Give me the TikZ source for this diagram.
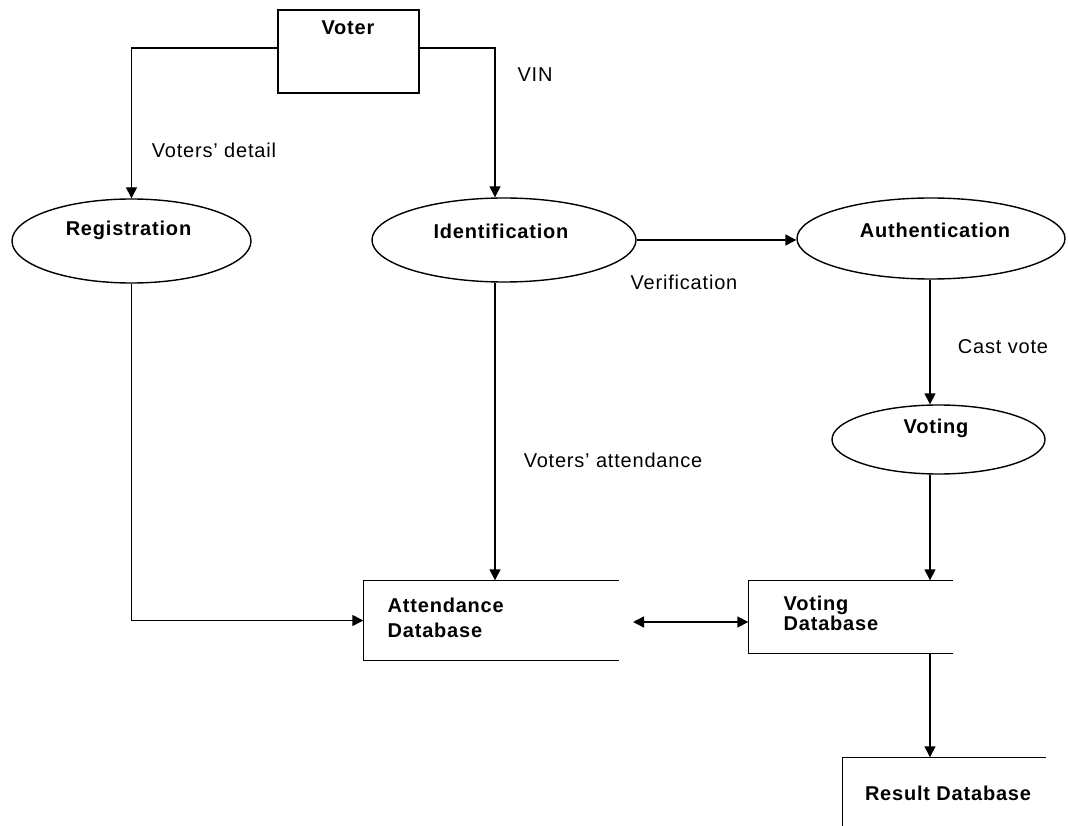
\documentclass[tikz,border=0pt]{standalone}
\usepackage{fontspec}
\setmainfont{Liberation Sans}[LetterSpace=4]
\usetikzlibrary{shapes.geometric,arrows.meta}
\begin{document}
\begin{tikzpicture}[x=1pt,y=-1pt,line width=1.4pt,
  ell/.style={draw,ellipse,inner sep=0pt},
  boxs/.style={draw,rectangle,inner sep=0pt},
  db/.style={rectangle,inner sep=0pt},
  lbl/.style={inner sep=0pt,font=\fontsize{20}{24}\selectfont},
  ttl/.style={inner sep=0pt,font=\bfseries\fontsize{20}{24}\selectfont},
  arr/.style={-{Triangle[length=11pt,width=11pt]}},
  darr/.style={{Triangle[length=11pt,width=11pt]}-{Triangle[length=11pt,width=11pt]}}]
\useasboundingbox (0,0) rectangle (1068,826);
% shapes
\node[boxs,minimum width=141pt,minimum height=83pt] (voter) at (348.5,51.5) {};
\node[ell,minimum width=239pt,minimum height=84pt] (reg) at (131.5,241) {};
\node[ell,minimum width=264pt,minimum height=84pt] (ident) at (504,240) {};
\node[ell,minimum width=268pt,minimum height=81pt] (auth) at (931,238.5) {};
\node[ell,minimum width=213pt,minimum height=69pt] (voting) at (938.5,439.5) {};
\node[db,minimum width=254pt,minimum height=79pt] (att) at (491,620.5) {};
\node[db,minimum width=203pt,minimum height=72pt] (vdb) at (850.5,617) {};
\node[db,minimum width=202pt,minimum height=68pt] (res) at (944,792) {};
\draw (att.north east) -- (att.north west) -- (att.south west) -- (att.south east);
\draw (vdb.north east) -- (vdb.north west) -- (vdb.south west) -- (vdb.south east);
\draw (res.north east) -- (res.north west) -- (res.south west);
% titles
\node[ttl] (tvoter) at (348,28) {Voter};
\node[ttl] (treg) at (128.5,230) {Registration};
\node[ttl] (tident) at (501,231) {Identification};
\node[ttl] (tauth) at (935,230) {Authentication};
\node[ttl] (tvoting) at (936,428) {Voting};
\node[ttl,anchor=west,align=left] (tatt) at (387,617.5) {Attendance\\[1pt]Database};
\node[ttl,anchor=west,align=left] (tvdb) at (783,613) {Voting\\[-4pt]Database};
\node[ttl] (tres) at (948,793) {Result Database};
% labels
\node[lbl] (lvin) at (535,75) {VIN};
\node[lbl] (ldet) at (214,150) {Voters’ detail};
\node[lbl] (lver) at (684,282) {Verification};
\node[lbl] (lcast) at (1003,347) {Cast vote};
\node[lbl] (latt) at (613,460) {Voters’ attendance};
% connectors
\coordinate (vinx) at (495,0);
\coordinate (colx) at (930,0);
\coordinate (dl) at (633,622);
\draw[arr] ([yshift=3.5pt]voter.west) -| (reg.north);
\draw[arr] ([yshift=3.5pt]voter.east) -| (ident.north -| vinx);
\draw[arr] (ident.east) -- (ident.east -| auth.west);
\draw[arr] (auth.south -| colx) -- (voting.north -| colx);
\draw[arr] (voting.south -| colx) -- (vdb.north -| colx);
\draw[arr] (vdb.south -| colx) -- (res.north -| colx);
\draw[arr] (ident.south -| vinx) -- (att.north -| vinx);
\draw[arr] (reg.south) |- (att.west);
\draw[darr] (dl) -- (dl -| vdb.west);
\end{tikzpicture}
\end{document}
